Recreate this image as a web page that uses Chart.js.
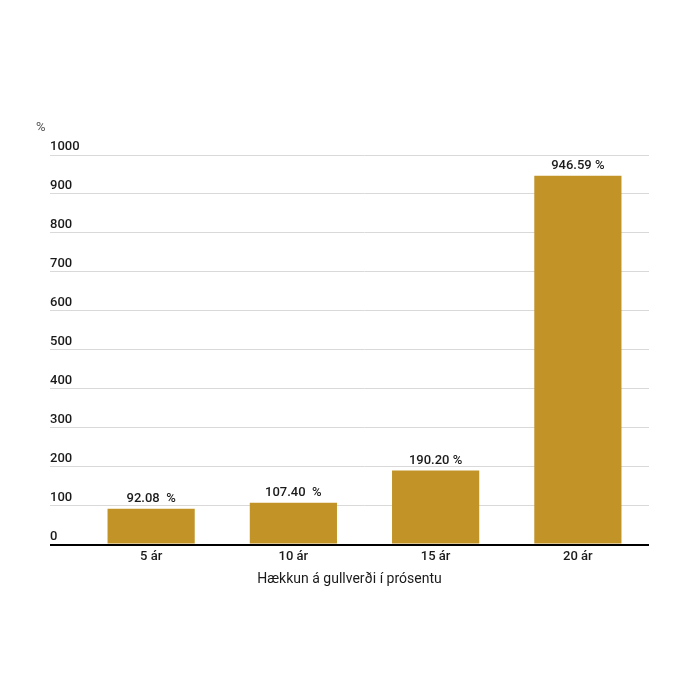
<!DOCTYPE html>
<html>
<head>
<meta charset="utf-8">
<script src="https://cdn.jsdelivr.net/npm/chart.js"></script>
<style>
  html, body { margin: 0; padding: 0; background: #fff; }
  #wrap { width: 700px; height: 700px; }
</style>
</head>
<body>
<div id="wrap"><canvas id="myChart"></canvas></div>
<script>
// chart data
var categories = ["5 ár", "10 ár", "15 ár", "20 ár"];
var increase = [92.08, 107.40, 190.20, 946.59];
var valueLabels = ["92.08  %", "107.40  %", "190.20 %", "946.59 %"];
var yUnit = "%";
var xTitle = "Hækkun á gullverði í prósentu";

var FONT = "Roboto, 'Noto Sans', sans-serif";

// value text above each bar + the unit label top left
var barLabels = {
	id: "barLabels",
	afterDatasetsDraw: function (chart) {
		var ctx = chart.ctx;
		var meta = chart.getDatasetMeta(0);
		ctx.save();
		ctx.font = "500 13px " + FONT;
		ctx.fillStyle = "#1a1a1a";
		ctx.textAlign = "center";
		ctx.textBaseline = "middle";
		meta.data.forEach(function (bar, i) {
			ctx.fillText(valueLabels[i], bar.x, bar.y - 10);
		});
		// unit
		ctx.font = "13px " + FONT;
		ctx.fillStyle = "#555";
		ctx.textAlign = "left";
		ctx.fillText(yUnit, chart.scales.y.left - 14, chart.chartArea.top - 27);
		ctx.restore();
	}
};

var ctx = document.getElementById("myChart").getContext("2d");
var chart = new Chart(ctx, {
	type: "bar",
	data: {
		labels: categories,
		datasets: [
			{
				data: increase,
				backgroundColor: "#c29428",
				barPercentage: 0.613,
				categoryPercentage: 1
			}
		]
	},
	options: {
		responsive: true,
		maintainAspectRatio: false,
		animation: false,
		layout: {
			padding: { left: 50, right: 51, top: 155, bottom: 112 }
		},
		scales: {
			x: {
				grid: { display: false, drawTicks: false },
				border: { display: false },
				ticks: {
					color: "#1a1a1a",
					padding: 4,
					maxRotation: 0,
					font: { family: FONT, size: 13, weight: "500" }
				}
			},
			y: {
				min: 0,
				max: 1000,
				afterFit: function (scale) {
					scale.width = 30;
				},
				border: { display: false },
				grid: {
					drawTicks: true,
					tickLength: 30,
					color: function (c) { return c.tick && c.tick.value === 0 ? "#000" : "#d9d9d9"; },
					tickColor: function (c) { return c.tick && c.tick.value === 0 ? "#000" : "#d9d9d9"; },
					lineWidth: function (c) { return c.tick && c.tick.value === 0 ? 2 : 1; }
				},
				ticks: {
					stepSize: 100,
					crossAlign: "far",
					labelOffset: -8,
					padding: 0,
					color: "#1a1a1a",
					font: { family: FONT, size: 13, weight: "500" },
					callback: function (v) { return String(v); }
				}
			}
		},
		plugins: {
			legend: { display: false },
			tooltip: { enabled: false },
			title: {
				display: true,
				position: "bottom",
				text: xTitle,
				color: "#1a1a1a",
				padding: { top: 3, bottom: 0 },
				font: { family: FONT, size: 14, weight: "normal" }
			}
		}
	},
	plugins: [barLabels]
});
</script>
</body>
</html>
